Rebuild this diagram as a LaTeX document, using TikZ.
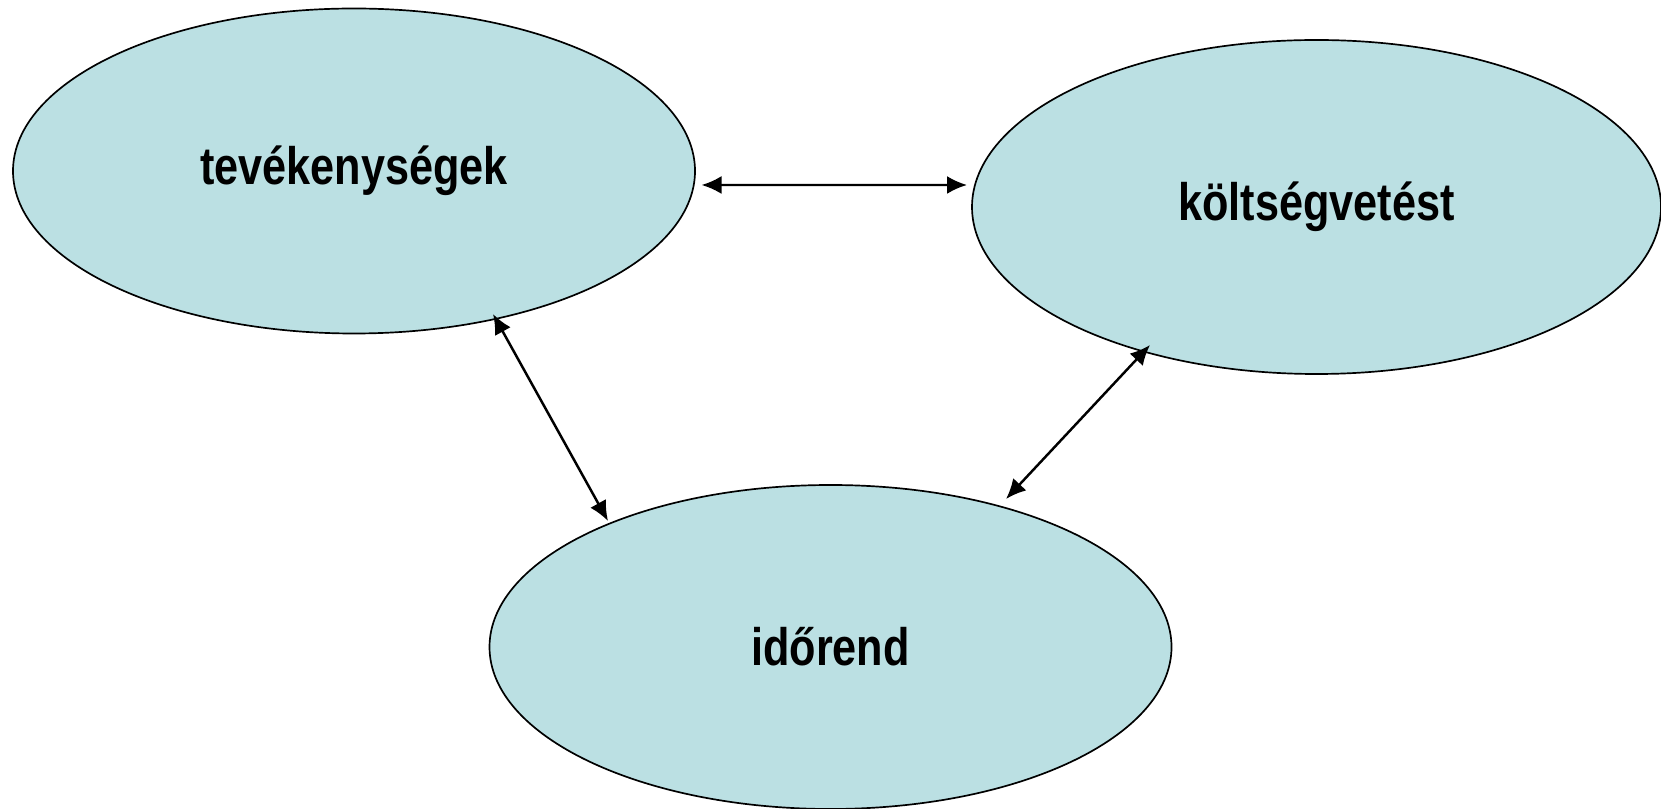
\documentclass[tikz,border=0pt]{standalone}
\usepackage{fontspec}
\usepackage{xcolor}
\usepackage{tikz}
\usetikzlibrary{arrows.meta}
\usetikzlibrary{shapes.geometric}
\newfontfamily\labelfont[FakeStretch=0.82]{Liberation Sans}
\definecolor{blobfill}{RGB}{187,224,227}
\tikzset{>={Latex[length=2mm,width=1.8mm]}}
\tikzstyle{blob} = [ellipse, draw=black, line width=0.48pt, fill=blobfill, inner sep=0pt, font=\labelfont\bfseries\fontsize{15}{18}\selectfont]
\tikzstyle{link} = [<->, draw=black, line width=0.7pt]

\begin{document}
\begin{tikzpicture}
\useasboundingbox (0,0) rectangle (16.61,-8.09);
\node [blob, minimum width=6.82cm, minimum height=3.25cm] (tev) at (3.54,-1.71) {tevékenységek};
\node [blob, minimum width=6.89cm, minimum height=3.34cm] (kolt) at (13.165,-2.07) {költségvetést};
\node [blob, minimum width=6.82cm, minimum height=3.24cm] (ido) at (8.305,-6.47) {időrend};
\draw [link] ([shift={(3.475,-0.14)}]tev.center) to ([shift={(-3.495,0.22)}]kolt.center);
\draw [link] ([shift={(1.39,-1.43)}]tev.center) to ([shift={(-2.225,1.26)}]ido.center);
\draw [link] ([shift={(-1.665,-1.38)}]kolt.center) to ([shift={(1.755,1.48)}]ido.center);
\end{tikzpicture}
\end{document}
